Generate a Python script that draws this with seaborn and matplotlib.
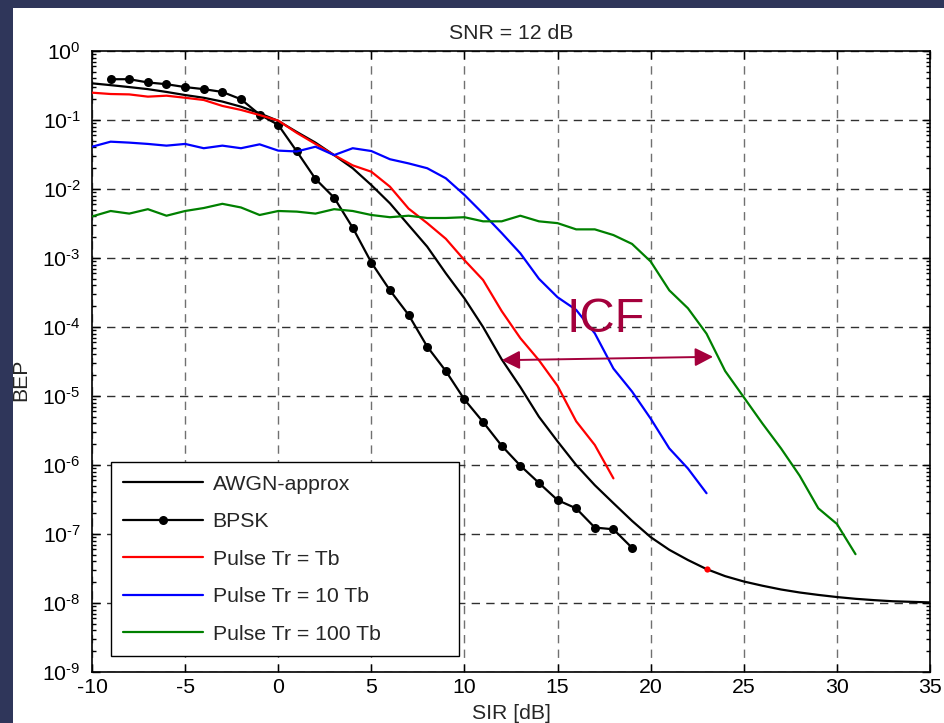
import matplotlib
matplotlib.use("Agg")
import matplotlib.pyplot as plt
from matplotlib.patches import Rectangle
from matplotlib.lines import Line2D
from matplotlib.ticker import FixedLocator, LogLocator, NullFormatter, NullLocator
import seaborn as sns
import pandas as pd

# ---- data: bit error probability vs signal-to-interference ratio ----
sir_awgn = [-10, -9, -8, -7, -6, -5, -4, -3, -2, -1, 0, 1, 2, 3, 4, 5, 6, 7, 8, 9,
            10, 11, 12, 13, 14, 15, 16, 17, 18, 19, 20, 21, 22, 23, 24, 25, 26, 27,
            28, 29, 30, 31, 32, 33, 34, 35]
bep_awgn = [0.34, 0.32, 0.30, 0.28, 0.255, 0.23, 0.21, 0.185, 0.156, 0.125, 0.097,
            0.067, 0.047, 0.031, 0.020, 0.0114, 0.0062, 0.0030, 0.00146, 6.0e-4,
            2.6e-4, 1.0e-4, 3.4e-5, 1.35e-5, 5.0e-6, 2.2e-6, 1.0e-6, 5.1e-7, 2.8e-7,
            1.55e-7, 9.0e-8, 5.9e-8, 4.2e-8, 3.1e-8, 2.45e-8, 2.05e-8, 1.78e-8,
            1.57e-8, 1.42e-8, 1.31e-8, 1.22e-8, 1.15e-8, 1.1e-8, 1.06e-8, 1.04e-8,
            1.02e-8]

sir_bpsk = [-9, -8, -7, -6, -5, -4, -3, -2, -1, 0, 1, 2, 3, 4, 5, 6, 7, 8, 9, 10,
            11, 12, 13, 14, 15, 16, 17, 18, 19]
bep_bpsk = [0.39, 0.39, 0.35, 0.33, 0.30, 0.28, 0.255, 0.20, 0.12, 0.085, 0.035,
            0.014, 0.0075, 0.00275, 8.6e-4, 3.4e-4, 1.5e-4, 5.2e-5, 2.3e-5, 8.9e-6,
            4.2e-6, 1.9e-6, 9.8e-7, 5.5e-7, 3.1e-7, 2.35e-7, 1.24e-7, 1.17e-7, 6.3e-8]

sir_tr1 = [-10, -9, -8, -7, -6, -5, -4, -3, -2, -1, 0, 1, 2, 3, 4, 5, 6, 7, 8, 9,
           10, 11, 12, 13, 14, 15, 16, 17, 18]
bep_tr1 = [0.249, 0.238, 0.235, 0.218, 0.225, 0.21, 0.195, 0.16, 0.14, 0.118, 0.098,
           0.065, 0.045, 0.031, 0.022, 0.0178, 0.0108, 0.0052, 0.0032, 0.0019,
           9.3e-4, 4.8e-4, 1.7e-4, 6.9e-5, 3.3e-5, 1.4e-5, 4.3e-6, 1.95e-6, 6.4e-7]

sir_tr10 = [-10, -9, -8, -7, -6, -5, -4, -3, -2, -1, 0, 1, 2, 3, 4, 5, 6, 7, 8, 9,
            10, 11, 12, 13, 14, 15, 16, 17, 18, 19, 20, 21, 22, 23]
bep_tr10 = [0.041, 0.0485, 0.047, 0.045, 0.0425, 0.045, 0.039, 0.0425, 0.039,
            0.0444, 0.036, 0.035, 0.041, 0.031, 0.039, 0.0355, 0.027, 0.0235, 0.020,
            0.0143, 0.0082, 0.0044, 0.0023, 0.00117, 5.0e-4, 2.7e-4, 1.77e-4,
            8.1e-5, 2.5e-5, 1.16e-5, 4.7e-6, 1.74e-6, 8.9e-7, 3.9e-7]

sir_tr100 = [-10, -9, -8, -7, -6, -5, -4, -3, -2, -1, 0, 1, 2, 3, 4, 5, 6, 7, 8, 9,
             10, 11, 12, 13, 14, 15, 16, 17, 18, 19, 20, 21, 22, 23, 24, 25, 26, 27,
             28, 29, 30, 31]
bep_tr100 = [0.0040, 0.0048, 0.0044, 0.0051, 0.0041, 0.0048, 0.0053, 0.0061, 0.0054,
             0.0042, 0.0048, 0.0047, 0.0044, 0.0051, 0.0048, 0.0042, 0.0039, 0.0041,
             0.0038, 0.0038, 0.0039, 0.0034, 0.0034, 0.0041, 0.0034, 0.0032, 0.0026,
             0.0026, 0.00215, 0.0016, 8.9e-4, 3.4e-4, 1.87e-4, 8.0e-5, 2.3e-5, 9.6e-6,
             4.0e-6, 1.74e-6, 7.0e-7, 2.36e-7, 1.4e-7, 5.1e-8]

series_names = ["AWGN-approx", "BPSK", "Pulse Tr = Tb", "Pulse Tr = 10 Tb",
                "Pulse Tr = 100 Tb"]
series_colors = ["black", "black", "#ff0000", "#0000ff", "#008000"]

# highlighted operating point on the AWGN curve
mark_sir = 23

# ICF annotation (interference coexistence factor gap)
icf_start = (12.0, 3.3e-5)
icf_end = (23.35, 3.7e-5)
icf_label_pos = (17.6, 1.3e-4)

x_ticks = [-10, -5, 0, 5, 10, 15, 20, 25, 30, 35]
y_exponents = [-9, -8, -7, -6, -5, -4, -3, -2, -1, 0]

# ---- style ----
sns.set_style("ticks")
plt.rcParams["font.family"] = ["Liberation Sans", "DejaVu Sans"]
plt.rcParams["mathtext.fontset"] = "custom"
plt.rcParams["mathtext.rm"] = "Liberation Sans"
plt.rcParams["mathtext.it"] = "Liberation Sans:italic"
plt.rcParams["mathtext.bf"] = "Liberation Sans:bold"

FS = 15.3
navy = "#2f365a"
icf_color = "#a4003c"

W, H = 944, 723
fig = plt.figure(figsize=(W / 100, H / 100), dpi=100, facecolor=navy)
fig.add_artist(Rectangle((13 / W, 0), 1 - 13 / W, 1 - 8 / H,
                         transform=fig.transFigure, facecolor="white",
                         edgecolor="none", zorder=0))

ax = fig.add_axes([92 / W, 1 - 672 / H, 838 / W, 621 / H])
ax.set_facecolor("white")

frames = {
    "AWGN-approx": pd.DataFrame({"sir": sir_awgn, "bep": bep_awgn}),
    "BPSK": pd.DataFrame({"sir": sir_bpsk, "bep": bep_bpsk}),
    "Pulse Tr = Tb": pd.DataFrame({"sir": sir_tr1, "bep": bep_tr1}),
    "Pulse Tr = 10 Tb": pd.DataFrame({"sir": sir_tr10, "bep": bep_tr10}),
    "Pulse Tr = 100 Tb": pd.DataFrame({"sir": sir_tr100, "bep": bep_tr100}),
}

lw = 1.6
for name, color in zip(series_names, series_colors):
    kw = dict(marker="o", markersize=6.5, markeredgewidth=0) if name == "BPSK" else {}
    sns.lineplot(data=frames[name], x="sir", y="bep", ax=ax, color=color,
                 linewidth=lw, estimator=None, sort=False, legend=False,
                 zorder=3, **kw)

# red marker on the AWGN curve
mark_val = bep_awgn[sir_awgn.index(mark_sir)]
ax.plot([mark_sir], [mark_val], marker="o", color="#ff0000", markersize=4.5,
        markeredgewidth=0, linestyle="none", zorder=4)

ax.set_yscale("log")
ax.set_xlim(-10, 35)
ax.set_ylim(1e-9, 1)

ax.xaxis.set_major_locator(FixedLocator(x_ticks))
ax.set_xticklabels([str(v) for v in x_ticks])
ax.xaxis.set_minor_locator(NullLocator())

ax.yaxis.set_major_locator(FixedLocator([10.0 ** e for e in y_exponents]))
ax.set_yticklabels([r"$\mathdefault{10^{\text{-}%d}}$" % (-e) if e < 0
                    else r"$\mathdefault{10^{%d}}$" % e for e in y_exponents])
ax.yaxis.set_minor_locator(LogLocator(base=10, subs=[2, 3, 4, 5, 6, 7, 8, 9],
                                      numticks=20))
ax.yaxis.set_minor_formatter(NullFormatter())

ax.tick_params(which="both", direction="in", top=True, right=True,
               colors="black", width=1.0)
ax.tick_params(which="major", length=6)
ax.tick_params(which="minor", length=3)
ax.tick_params(axis="x", labelsize=FS, pad=4)
ax.tick_params(axis="y", labelsize=FS, pad=8)

ax.xaxis.grid(True, which="major", linestyle=(0, (6, 4.5)), color="#707070",
              linewidth=1.0)
ax.yaxis.grid(True, which="major", linestyle=(0, (6, 4.5)), color="#303030",
              linewidth=1.0)
ax.set_axisbelow(True)

for sp in ax.spines.values():
    sp.set_visible(True)
    sp.set_color("black")
    sp.set_linewidth(1.2)

ax.set_title("SNR = 12 dB", fontsize=FS, pad=9)
ax.set_xlabel("SIR [dB]", fontsize=FS)
ax.set_ylabel("BEP", fontsize=FS)
ax.xaxis.set_label_coords(0.5, -0.052)
ax.yaxis.set_label_coords(-0.074, 0.47)

# ICF double arrow and label
ax.annotate("", xy=icf_end, xytext=icf_start,
            arrowprops=dict(arrowstyle="<|-|>,head_length=0.55,head_width=0.28",
                            color=icf_color, lw=1.4, mutation_scale=20,
                            shrinkA=0, shrinkB=0), zorder=5)
ax.text(icf_label_pos[0], icf_label_pos[1], "ICF", color=icf_color, fontsize=35,
        ha="center", va="center", zorder=5)

handles = []
for name, color in zip(series_names, series_colors):
    if name == "BPSK":
        handles.append(Line2D([], [], color=color, lw=lw, marker="o",
                              markersize=6.5, markeredgewidth=0))
    else:
        handles.append(Line2D([], [], color=color, lw=lw))
leg = ax.legend(handles, series_names, loc="lower left",
                bbox_to_anchor=(0.0223, 0.026, 0.4157, 0.315), mode="expand",
                fontsize=FS, frameon=True, fancybox=False, framealpha=1,
                edgecolor="black", borderpad=0.58, labelspacing=0.87,
                handlelength=3.75, handletextpad=0.47, borderaxespad=0,
                numpoints=1)
leg.get_frame().set_linewidth(1.0)
leg.set_zorder(6)

fig.savefig("out.png", dpi=100, facecolor=fig.get_facecolor())
